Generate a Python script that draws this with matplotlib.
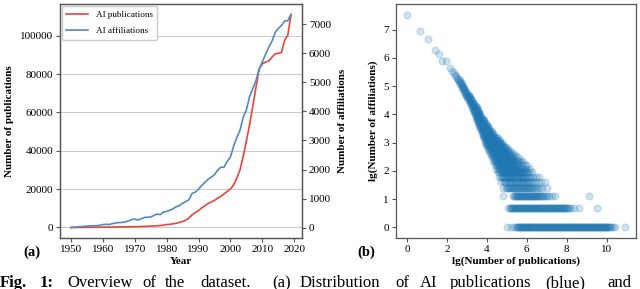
import numpy as np
import matplotlib
matplotlib.use("Agg")
import matplotlib.pyplot as plt

plt.rcParams['font.family'] = 'serif'
plt.rcParams['font.serif'] = ['Liberation Serif', 'DejaVu Serif']

# ---------------- data: panel (a) ----------------
years = list(range(1950, 2020))
publications = [0, 10, 20, 30, 45, 60, 75, 90, 105, 125,
                150, 170, 190, 210, 230, 250, 275, 300, 330, 360,
                400, 440, 490, 540, 620, 700, 780, 860, 1000, 1200,
                1500, 1650, 1900, 2200, 2600, 3100, 3800, 4900, 6600, 7800,
                8800, 10200, 11300, 12500, 13300, 14100, 15200, 16200, 17500, 18800,
                20000, 22200, 25700, 30000, 37000, 45000, 53500, 63000, 73000, 82500,
                85300, 86200, 86700, 88700, 90500, 90800, 91200, 97500, 100300, 111000]
affiliations = [0, 15, 25, 35, 45, 55, 60, 65, 70, 80,
                110, 115, 110, 140, 165, 175, 180, 200, 230, 280,
                300, 265, 310, 350, 360, 370, 420, 470, 450, 540,
                560, 600, 650, 720, 760, 840, 900, 960, 1180, 1220,
                1320, 1450, 1560, 1660, 1740, 1820, 1980, 2080, 2080, 2280,
                2430, 2800, 3100, 3350, 3800, 4050, 4500, 4780, 5050, 5450,
                5700, 5950, 6200, 6400, 6700, 6850, 6950, 7110, 7110, 7340]
pub_ticks = [0, 20000, 40000, 60000, 80000, 100000]
aff_ticks = [0, 1000, 2000, 3000, 4000, 5000, 6000, 7000]
year_ticks = [1950, 1960, 1970, 1980, 1990, 2000, 2010, 2020]

# ---------------- data: panel (b) ----------------
# x = lg(number of publications) for affiliation counts 1..5 (discrete rows)
row_counts = [1, 2, 3, 4, 5]
row1_x = [5.03, 5.22, 5.38, 5.47, 5.52, 5.56, 5.60, 5.63, 5.67, 5.71, 5.74, 5.78, 5.82, 5.85,
          5.89, 5.93, 5.96, 6.00, 6.04, 6.07, 6.11, 6.15, 6.18, 6.22, 6.26, 6.29, 6.33, 6.37,
          6.40, 6.44, 6.48, 6.51, 6.55, 6.59, 6.62, 6.66, 6.70, 6.73, 6.77, 6.81, 6.84, 6.88,
          6.92, 6.95, 6.99, 7.03, 7.06, 7.10, 7.14, 7.17, 7.21, 7.25, 7.28, 7.32, 7.36, 7.39,
          7.43, 7.47, 7.50, 7.54, 7.58, 7.61, 7.65, 7.69, 7.72, 7.76, 7.80, 7.83, 7.87, 7.91,
          7.94, 7.98, 8.02, 8.05, 8.09, 8.13, 8.16, 8.20, 8.24, 8.27, 8.31, 8.35, 8.38, 8.42,
          8.46, 8.49, 8.53, 8.57, 8.60, 8.64, 8.68, 8.71, 8.75, 8.79, 8.82, 8.86, 8.90, 8.93,
          8.97, 9.01, 9.04, 9.08, 9.12, 9.15, 9.19, 9.23, 9.26, 9.30, 9.34, 9.37, 9.41, 9.45,
          9.48, 9.52, 9.56, 9.59, 9.63, 9.67, 9.70, 9.74, 9.78, 9.81, 9.85, 9.89, 9.92, 9.96,
          10.00, 10.03, 10.07, 10.11, 10.15, 10.22, 10.31, 10.42, 10.92]
row2_x = [5.08, 5.15, 5.19, 5.23, 5.27, 5.31, 5.35, 5.39, 5.43, 5.47, 5.51, 5.55, 5.59, 5.63,
          5.67, 5.71, 5.75, 5.79, 5.83, 5.87, 5.91, 5.95, 5.99, 6.03, 6.07, 6.11, 6.15, 6.19,
          6.23, 6.27, 6.31, 6.35, 6.39, 6.43, 6.47, 6.51, 6.55, 6.59, 6.63, 6.67, 6.71, 6.75,
          6.79, 6.83, 6.87, 6.91, 6.95, 6.99, 7.03, 7.07, 7.11, 7.15, 7.19, 7.23, 7.27, 7.31,
          7.35, 7.39, 7.43, 7.47, 7.51, 7.55, 7.59, 7.63, 7.67, 7.71, 7.75, 7.79, 7.83, 7.87,
          7.91, 7.95, 8.00, 8.06, 8.12, 8.19, 8.35, 8.60, 9.50]
row3_x = [4.83, 5.33, 5.37, 5.41, 5.45, 5.49, 5.53, 5.57, 5.61, 5.65, 5.69, 5.73, 5.77, 5.81,
          5.85, 5.89, 5.93, 5.97, 6.01, 6.05, 6.09, 6.13, 6.17, 6.21, 6.25, 6.29, 6.33, 6.37,
          6.41, 6.45, 6.49, 6.53, 6.57, 6.61, 6.65, 6.69, 6.74, 6.80, 6.87, 6.95, 7.03, 7.10,
          7.25, 7.43, 9.10]
row4_x = [4.80, 4.95, 5.01, 5.06, 5.11, 5.16, 5.21, 5.26, 5.31, 5.36, 5.41, 5.46, 5.51, 5.56,
          5.61, 5.66, 5.71, 5.76, 5.81, 5.86, 5.91, 5.96, 6.01, 6.06, 6.11, 6.16, 6.21, 6.27,
          6.33, 6.40, 6.48, 6.57, 6.67, 6.78, 7.00]
row5_x = [4.72, 4.85, 4.92, 4.98, 5.04, 5.10, 5.16, 5.22, 5.28, 5.34, 5.40, 5.46, 5.52, 5.58,
          5.64, 5.70, 5.76, 5.82, 5.88, 5.94, 6.00, 6.07, 6.14, 6.22, 6.31, 6.42, 6.55, 6.70,
          6.90]
row_xs = [row1_x, row2_x, row3_x, row4_x, row5_x]

# band of higher affiliation counts, y = lg(number of affiliations)
band_y = [1.79, 1.95, 2.08, 2.20, 2.30, 2.40, 2.48, 2.56, 2.64, 2.71, 2.77, 2.83, 2.89, 2.94,
          3.00, 3.05, 3.10, 3.15, 3.20, 3.25, 3.30, 3.35, 3.40, 3.45, 3.50, 3.55, 3.60, 3.65,
          3.70, 3.75, 3.80, 3.85, 3.90, 3.95, 4.00, 4.05, 4.10, 4.15, 4.20, 4.25, 4.30, 4.35,
          4.40, 4.45, 4.50, 4.55, 4.60, 4.65, 4.70, 4.75, 4.80, 4.85, 4.90, 4.95, 5.00, 5.05,
          5.10, 5.15, 5.20, 5.25, 5.30, 5.35, 5.40, 5.45, 5.55, 5.64, 5.90, 6.13, 6.29, 6.67,
          6.94, 7.53]
band_x = [
    [4.62, 4.70, 4.76, 4.81, 4.86, 4.90, 4.95, 5.00, 5.04, 5.09, 5.14, 5.18, 5.23, 5.28, 5.32, 5.37, 5.42, 5.46,
     5.51, 5.56, 5.60, 5.65, 5.70, 5.75, 5.80, 5.86, 5.92, 5.98, 6.05, 6.12, 6.20, 6.30, 6.45, 6.60],
    [4.55, 4.63, 4.70, 4.75, 4.80, 4.85, 4.89, 4.94, 4.98, 5.03, 5.08, 5.12, 5.17, 5.22, 5.26, 5.31, 5.36, 5.40,
     5.45, 5.50, 5.54, 5.59, 5.64, 5.69, 5.75, 5.81, 5.88, 5.95, 6.03, 6.12, 6.25],
    [4.45, 4.55, 4.62, 4.68, 4.73, 4.78, 4.83, 4.87, 4.92, 4.96, 5.01, 5.06, 5.10, 5.15, 5.20, 5.24, 5.29, 5.34,
     5.38, 5.43, 5.48, 5.53, 5.59, 5.65, 5.72, 5.80, 5.90, 6.02, 6.18],
    [4.40, 4.50, 4.57, 4.63, 4.68, 4.73, 4.78, 4.82, 4.87, 4.92, 4.96, 5.01, 5.06, 5.10, 5.15, 5.20, 5.25, 5.30,
     5.36, 5.42, 5.49, 5.57, 5.66, 5.77, 5.90, 6.02],
    [4.35, 4.45, 4.52, 4.58, 4.63, 4.68, 4.73, 4.78, 4.83, 4.87, 4.92, 4.97, 5.02, 5.07, 5.12, 5.18, 5.24, 5.30,
     5.37, 5.45, 5.54, 5.65, 5.80],
    [4.30, 4.40, 4.47, 4.53, 4.59, 4.64, 4.69, 4.74, 4.79, 4.84, 4.89, 4.94, 4.99, 5.05, 5.11, 5.17, 5.24, 5.32,
     5.42, 5.55, 5.72],
    [4.25, 4.35, 4.42, 4.48, 4.54, 4.60, 4.65, 4.70, 4.75, 4.80, 4.86, 4.92, 4.98, 5.04, 5.11, 5.19, 5.28, 5.40, 5.55],
    [4.20, 4.30, 4.38, 4.44, 4.50, 4.56, 4.61, 4.67, 4.72, 4.78, 4.84, 4.90, 4.97, 5.05, 5.14, 5.25, 5.42],
    [4.16, 4.26, 4.34, 4.40, 4.46, 4.52, 4.58, 4.63, 4.69, 4.75, 4.81, 4.88, 4.96, 5.05, 5.16, 5.30],
    [4.12, 4.22, 4.30, 4.36, 4.42, 4.48, 4.54, 4.60, 4.66, 4.72, 4.79, 4.87, 4.96, 5.06, 5.18],
    [4.08, 4.18, 4.26, 4.33, 4.39, 4.45, 4.51, 4.57, 4.63, 4.70, 4.77, 4.85, 4.94, 5.05],
    [4.05, 4.15, 4.23, 4.30, 4.36, 4.42, 4.48, 4.54, 4.61, 4.68, 4.76, 4.85, 4.98],
    [4.00, 4.10, 4.18, 4.25, 4.32, 4.38, 4.45, 4.52, 4.59, 4.67, 4.76, 4.88],
    [3.96, 4.06, 4.14, 4.21, 4.28, 4.35, 4.42, 4.49, 4.57, 4.66, 4.78],
    [3.92, 4.02, 4.10, 4.17, 4.24, 4.31, 4.38, 4.46, 4.55, 4.65, 4.78],
    [3.95, 4.05, 4.13, 4.21, 4.29, 4.37, 4.46, 4.56, 4.68],
    [3.90, 4.00, 4.08, 4.16, 4.24, 4.32, 4.41, 4.51, 4.62],
    [3.88, 3.97, 4.05, 4.13, 4.21, 4.30, 4.40, 4.52],
    [3.85, 3.94, 4.02, 4.10, 4.18, 4.27, 4.37, 4.50],
    [3.82, 3.91, 3.99, 4.07, 4.15, 4.24, 4.35],
    [3.80, 3.88, 3.96, 4.04, 4.12, 4.21, 4.32],
    [3.77, 3.85, 3.93, 4.01, 4.09, 4.18, 4.28],
    [3.74, 3.82, 3.90, 3.98, 4.06, 4.15, 4.25],
    [3.71, 3.79, 3.87, 3.95, 4.03, 4.12],
    [3.68, 3.76, 3.84, 3.92, 4.00, 4.10],
    [3.66, 3.74, 3.82, 3.90, 3.98, 4.06],
    [3.63, 3.71, 3.79, 3.87, 3.95, 4.03],
    [3.60, 3.68, 3.76, 3.84, 3.92, 4.00],
    [3.58, 3.66, 3.74, 3.82, 3.90],
    [3.55, 3.63, 3.71, 3.79, 3.87],
    [3.52, 3.60, 3.68, 3.76, 3.84],
    [3.50, 3.58, 3.66, 3.74, 3.82],
    [3.47, 3.55, 3.63, 3.71],
    [3.44, 3.52, 3.60, 3.68],
    [3.42, 3.50, 3.58, 3.66],
    [3.40, 3.48, 3.56, 3.62],
    [3.36, 3.44, 3.52, 3.60],
    [3.33, 3.41, 3.49, 3.56],
    [3.30, 3.38, 3.46, 3.53],
    [3.27, 3.35, 3.43, 3.50],
    [3.24, 3.32, 3.40, 3.46],
    [3.21, 3.29, 3.37],
    [3.18, 3.26, 3.33],
    [3.14, 3.22, 3.30],
    [3.10, 3.18, 3.26],
    [3.06, 3.14, 3.22],
    [3.02, 3.10, 3.17],
    [2.98, 3.06, 3.13],
    [2.95, 3.02, 3.09],
    [2.92, 2.99],
    [2.88, 2.96],
    [2.85, 2.92],
    [2.81, 2.88],
    [2.78, 2.85],
    [2.74, 2.81],
    [2.70, 2.77],
    [2.66, 2.73],
    [2.62, 2.69],
    [2.58, 2.64],
    [2.54],
    [2.49],
    [2.44],
    [2.40],
    [2.36],
    [2.27],
    [2.15],
    [1.78, 1.95],
    [1.61],
    [1.39],
    [1.08],
    [0.67],
    [0.00],
]
b_xticks = [0, 2, 4, 6, 8, 10]
b_yticks = [0, 1, 2, 3, 4, 5, 6, 7]

caption_words = ["Fig.", "1:", "Overview", "of", "the", "dataset.", "(a)", "Distribution",
                 "of", "AI", "publications", "(blue)", "and"]

# ---------------- styling ----------------
red = '#e4463c'
blue = '#5289c4'
spine_c = '#555555'
fs_tick = 8
fs_label = 8

fig = plt.figure(figsize=(6.4, 2.89), dpi=100)

# panel (a)
ax1 = fig.add_axes([60/640, 1-238/289, 242/640, 234/289])
ax1.plot(years, publications, color=red, lw=1.2, label='AI publications')
ax1.set_ylim(-5500, 116500)
ax1.set_yticks(pub_ticks)
ax1.set_xticks(year_ticks)
ax1.grid(axis='y', color='#cccccc', lw=0.8)
ax1.set_axisbelow(True)
ax1.set_xlabel('Year', fontsize=fs_label, fontweight='bold', labelpad=2)
ax1.set_ylabel('Number of publications', fontsize=fs_label, fontweight='bold', labelpad=4)
ax2 = ax1.twinx()
ax2.plot(years, affiliations, color=blue, lw=1.2, label='AI affiliations')
ax2.set_ylim(-354, 7690)
ax2.set_yticks(aff_ticks)
ax2.set_ylabel('Number of affiliations', fontsize=fs_label, fontweight='bold', labelpad=5)
h1, l1 = ax1.get_legend_handles_labels()
h2, l2 = ax2.get_legend_handles_labels()
leg = ax2.legend(h1 + h2, l1 + l2, loc='upper left', fontsize=6.6, handlelength=2.4,
                 handletextpad=0.8, borderpad=0.5, labelspacing=0.9, framealpha=1,
                 edgecolor='#cccccc', borderaxespad=0.2, bbox_to_anchor=(0.0, 1.0))
for ax in (ax1, ax2):
    for s in ax.spines.values():
        s.set_color(spine_c)
        s.set_linewidth(0.9)
    ax.tick_params(labelsize=fs_tick, color=spine_c, length=3, width=0.8, pad=2)

# panel (b)
ax3 = fig.add_axes([396/640, 1-238/289, 240/640, 234/289])
for n, xs in zip(row_counts, row_xs):
    ax3.scatter(xs, [np.log(n)] * len(xs), s=24, color='#1f77b4', alpha=0.2, linewidths=1.0)
for yv, xs in zip(band_y, band_x):
    ax3.scatter(xs, [yv] * len(xs), s=24, color='#1f77b4', alpha=0.2, linewidths=1.0)
ax3.set_xticks(b_xticks)
ax3.set_yticks(b_yticks)
ax3.set_xlabel('lg(Number of publications)', fontsize=fs_label, fontweight='bold', labelpad=2)
ax3.set_ylabel('lg(Number of affiliations)', fontsize=fs_label, fontweight='bold', labelpad=4)
for s in ax3.spines.values():
    s.set_color(spine_c)
    s.set_linewidth(0.9)
ax3.tick_params(labelsize=fs_tick, color=spine_c, length=3, width=0.8, pad=2)

fig.text(32/640, 1-252/289, '(a)', fontsize=10.5, fontweight='bold', ha='center', va='center')
fig.text(366/640, 1-252/289, '(b)', fontsize=10.5, fontweight='bold', ha='center', va='center')

# caption (cut at the bottom)
word_x = [0, 40, 67, 142, 165, 200, 272, 300, 395, 420, 450, 545, 607]
for i, (w, xp) in enumerate(zip(caption_words, word_x)):
    fig.text(xp/640, 1-287/289, w, fontsize=12,
             fontweight='bold' if i < 2 else 'normal', ha='left', va='baseline')

fig.savefig('out.png', dpi=100)
